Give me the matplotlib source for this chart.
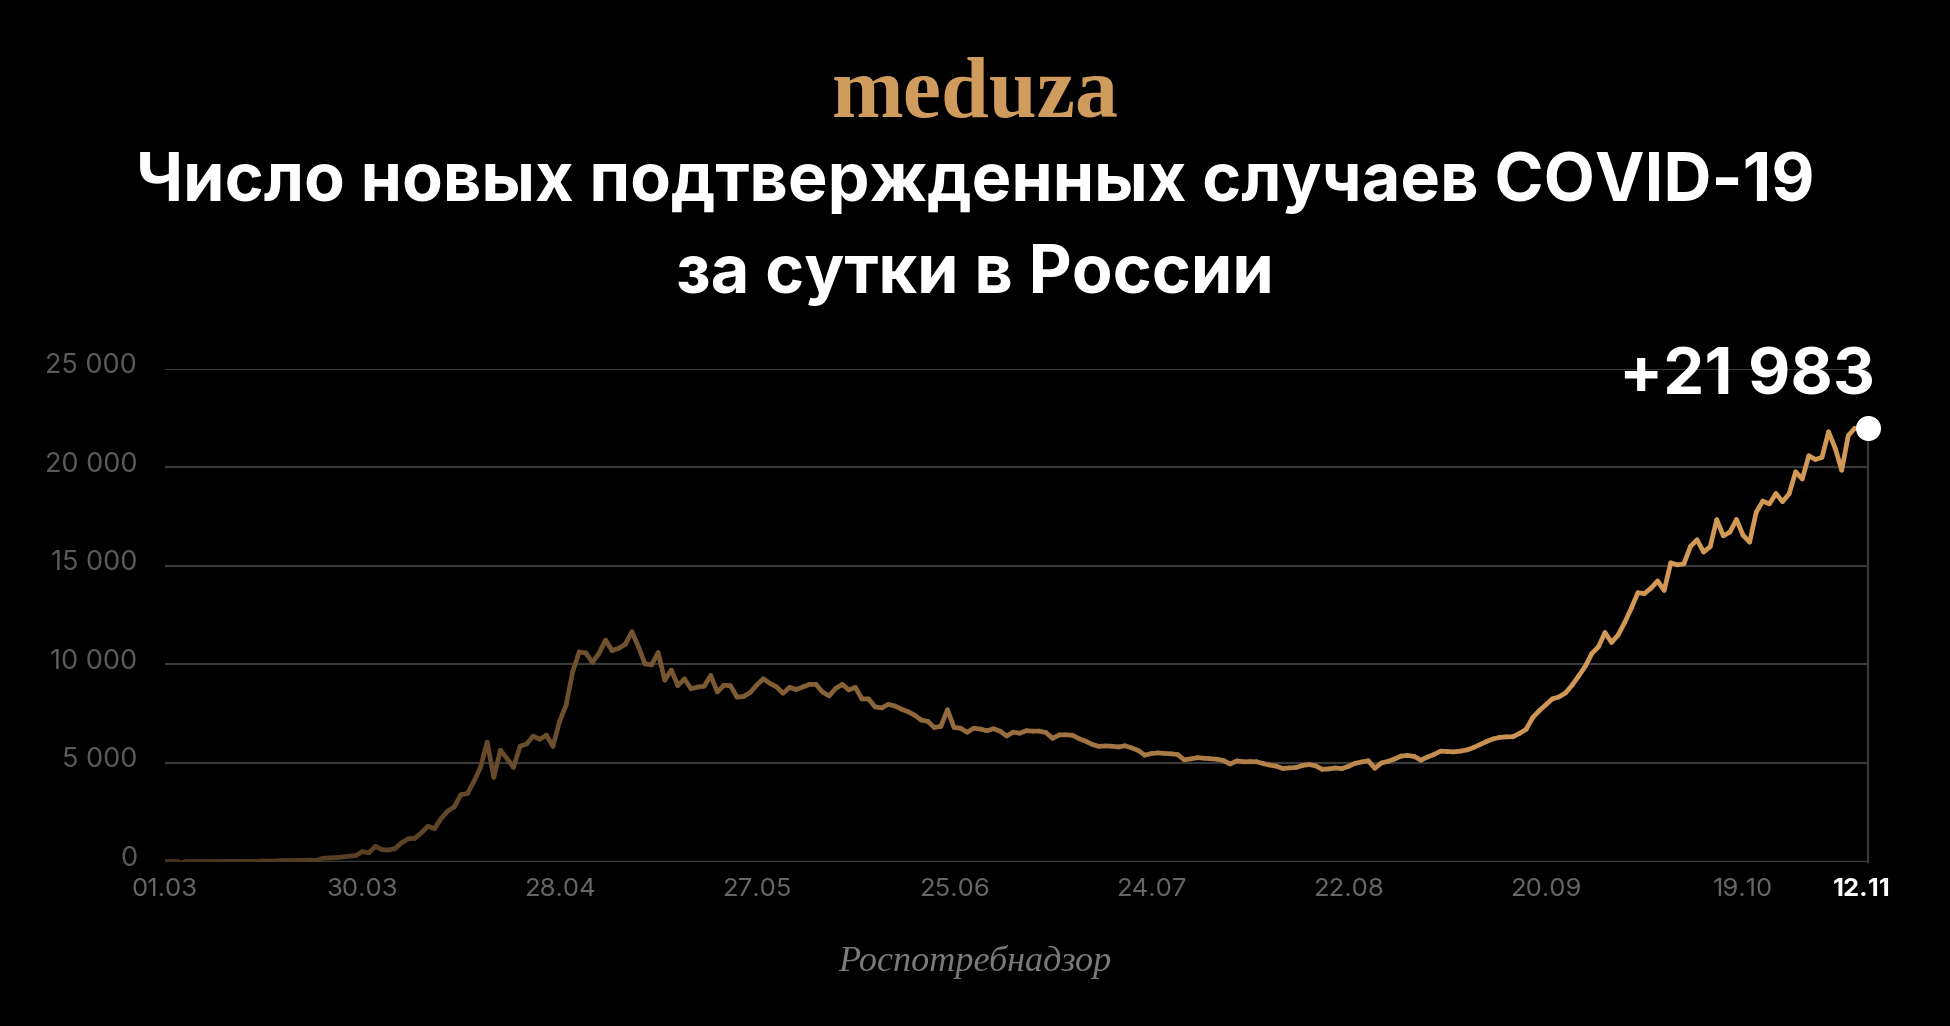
import numpy as np
import matplotlib
matplotlib.use('Agg')
import matplotlib.pyplot as plt
import matplotlib.transforms as mtransforms
from matplotlib.collections import LineCollection

# новые случаи за сутки, день 0 = 01.03
march = [0, 1, 0, 0, 1, 6, 3, 4, 0, 3, 8, 6, 11, 14, 4, 30, 21, 33, 52, 54,
         53, 61, 71, 57, 163, 182, 196, 228, 270, 302, 501]
april = [440, 771, 601, 582, 658, 954, 1154, 1175, 1459, 1786, 1667, 2186, 2558, 2774, 3388,
         3448, 4070, 4785, 6060, 4268, 5642, 5236, 4774, 5849, 5966, 6361, 6198, 6411, 5841, 7099]
may = [7933, 9623, 10633, 10581, 10102, 10559, 11231, 10699, 10817, 11012, 11656, 10899, 10028,
       9974, 10598, 9200, 9709, 8926, 9263, 8764, 8849, 8894, 9434, 8599, 8946, 8915, 8338,
       8371, 8572, 8952, 9268]
june = [9035, 8863, 8536, 8831, 8726, 8855, 8984, 8985, 8595, 8404, 8779, 8987, 8706, 8835, 8246,
        8248, 7843, 7790, 7972, 7889, 7728, 7600, 7425, 7176, 7113, 6800, 6852, 7700, 6800, 6760]
july = [6556, 6760, 6718, 6632, 6736, 6611, 6368, 6562, 6509, 6635, 6611, 6615, 6537, 6248, 6422,
        6428, 6406, 6234, 6109, 5940, 5842, 5862, 5848, 5811, 5871, 5765, 5635, 5395, 5475, 5509, 5482]
august = [5462, 5427, 5159, 5204, 5267, 5241, 5212, 5189, 5118, 4945, 5102, 5057, 5065, 5061, 4969,
          4892, 4839, 4718, 4748, 4767, 4870, 4921, 4852, 4676, 4696, 4744, 4711, 4829, 4980, 5050, 5110]
september = [4730, 5000, 5080, 5200, 5350, 5380, 5330, 5140, 5300, 5430, 5600, 5580, 5560, 5600, 5660,
             5780, 5930, 6090, 6220, 6300, 6320, 6330, 6500, 6700, 7300, 7650, 7950, 8250, 8350, 8550]
october = [8945, 9412, 9900, 10550, 10888, 11615, 11115, 11493, 12126, 12846, 13634, 13592, 13868,
           14231, 13754, 15150, 15048, 15099, 15982, 16319, 15700, 15971, 17340, 16521, 16710, 17347,
           16550, 16202, 17717, 18283, 18140]
november = [18665, 18257, 18648, 19768, 19404, 20582, 20396, 20498, 21798, 20977, 19851, 21608, 21983]

cases = np.array(march + april + may + june + july + august + september + october + november, dtype=float)
days = np.arange(len(cases))

tick_labels = ['01.03', '30.03', '28.04', '27.05', '25.06', '24.07', '22.08', '20.09', '19.10']
last_label = '12.11'
y_ticks = [0, 5000, 10000, 15000, 20000, 25000]
y_labels = ['0', '5 000', '10 000', '15 000', '20 000', '25 000']

title = 'Число новых подтвержденных случаев COVID-19\nза сутки в России'
source = 'Роспотребнадзор'

plt.rcParams['font.family'] = ['Inter', 'DejaVu Sans']

BG = '#000000'
GOLD = np.array([210, 152, 86]) / 255
GRID = '#393939'

fig = plt.figure(figsize=(19.5, 10.26), dpi=100, facecolor=BG)
ax = fig.add_axes([165 / 1950, 1 - 861.5 / 1026, (1868 - 165) / 1950, (861.5 - 368.7) / 1026])
ax.set_facecolor(BG)

x_max = 259
ax.set_xlim(0, x_max)
ax.set_ylim(0, 25000)

# сетка
ax.set_yticks(y_ticks)
ax.set_yticklabels(y_labels)
ax.grid(axis='y', color=GRID, linewidth=1.6, zorder=0)
ax.axhline(0, color='#424242', linewidth=2.4, zorder=1)
for s in ax.spines.values():
    s.set_visible(False)

# линия с переходом от тёмного к золотому
pts = np.column_stack([days, cases])
segs = np.stack([pts[:-1], pts[1:]], axis=1)
f = np.clip(0.33 + 0.67 * days[:-1] / 215, 0, 1)
colors = [tuple(GOLD * k) for k in f]
lc = LineCollection(segs, colors=colors, linewidths=3.4, capstyle='round', joinstyle='round', zorder=3)
ax.add_collection(lc)

# последняя точка
last = cases[-1]
ax.plot([x_max, x_max], [0, last], color=GRID, linewidth=1.6, zorder=2, clip_on=False)
ax.plot(x_max, last, 'o', color='white', markersize=17, zorder=5, clip_on=False)
ax.annotate('+21 983', xy=(x_max, last), xytext=(5, 24), textcoords='offset points',
            ha='right', va='baseline', color='white', fontsize=47, fontweight='bold')

# оси
x_ticks = list(range(0, 241, 30)) + [x_max - 1]
ax.set_xticks(x_ticks)
ax.set_xticklabels(tick_labels + [last_label])
ax.tick_params(axis='x', length=0, pad=12, labelsize=18.5, labelcolor='#666666')
ax.tick_params(axis='y', length=0, pad=20, labelsize=19.5, labelcolor='#5a5a5a')
xl = ax.get_xticklabels()[-1]
xl.set_color('white')
xl.set_fontweight('bold')
offset = mtransforms.ScaledTranslation(0, 4 / 72, fig.dpi_scale_trans)
for lab in ax.get_yticklabels():
    lab.set_transform(lab.get_transform() + offset)

# заголовок
fig.text(0.5, 1 - 96 / 1026, 'meduza', ha='center', va='center', color='#d09c5e',
         fontsize=62, fontweight='bold', family=['Liberation Serif', 'DejaVu Serif'])
t1, t2 = title.split('\n')
fig.text(0.5, 1 - 201 / 1026, t1, ha='center', va='baseline', color='white', fontsize=48, fontweight='bold')
fig.text(0.5, 1 - 293.5 / 1026, t2, ha='center', va='baseline', color='white', fontsize=48, fontweight='bold')

fig.text(0.5, 1 - 971 / 1026, source, ha='center', va='baseline', color='#7a7a7a', fontsize=26,
         style='italic', family=['Liberation Serif', 'DejaVu Serif'])

fig.savefig('out.png', dpi=100, facecolor=BG)
